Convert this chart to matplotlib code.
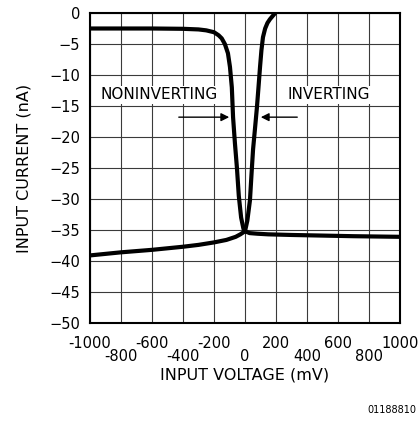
import matplotlib
matplotlib.use("Agg")
import matplotlib.pyplot as plt

# input current vs input voltage
noninv_mv = [-1000, -800, -600, -400, -300, -250, -200, -170, -150, -130, -110, -97, -85,
             -77, -65, -52, -40, -25, -10, 0, 30, 80, 150, 300, 500, 700, 1000]
noninv_na = [-2.5, -2.5, -2.5, -2.55, -2.65, -2.8, -3.1, -3.6, -4.1, -5.0, -6.5, -8.7, -12.0,
             -16.8, -21.0, -25.0, -29.5, -33.0, -34.8, -35.2, -35.5, -35.6, -35.7, -35.8, -35.9, -36.0, -36.1]

inv_mv = [-1000, -800, -600, -400, -300, -200, -120, -60, -30, 0, 15, 32, 42, 52, 65, 77,
          87, 97, 106, 116, 130, 145, 161, 178, 195]
inv_na = [-39.1, -38.6, -38.2, -37.7, -37.4, -37.0, -36.6, -36.1, -35.7, -35.2, -33.5, -30.2,
          -26.0, -22.0, -18.5, -15.2, -12.0, -8.7, -6.0, -3.9, -2.5, -1.6, -1.0, -0.5, 0.0]

xticks_top = [-1000, -600, -200, 200, 600, 1000]
xticks_low = [-800, -400, 0, 400, 800]
yticks = list(range(-50, 1, 5))

plt.rcParams['font.family'] = ['DejaVu Sans']
plt.rcParams['font.size'] = 10.5

fig = plt.figure(figsize=(4.19, 4.21), dpi=100)
ax = fig.add_axes([90/419, 98/421, 310/419, 310/421])

ax.plot(noninv_mv, noninv_na, color='black', lw=3, solid_capstyle='round')
ax.plot(inv_mv, inv_na, color='black', lw=3, solid_capstyle='round')

ax.set_xlim(-1000, 1000)
ax.set_ylim(-50, 0)
ax.set_xticks(xticks_top)
ax.set_xticklabels([str(t) for t in xticks_top])
ax.set_xticks(xticks_low, minor=True)
ax.set_xticklabels([str(t) for t in xticks_low], minor=True)
ax.set_yticks(yticks)
ax.tick_params(axis='x', which='both', labelsize=10.5)
ax.tick_params(axis='x', which='major', length=0, pad=9)
ax.tick_params(axis='x', which='minor', length=0, pad=18.5)
ax.tick_params(axis='y', length=0, pad=7, labelsize=10.5)
ax.grid(True, which='both', color='#3a3a3a', lw=0.8)
for s in ax.spines.values():
    s.set_linewidth(1.5)

ax.set_xlabel('INPUT VOLTAGE (mV)', labelpad=3, fontsize=11.5)
ax.set_ylabel('INPUT CURRENT (nA)', labelpad=13, fontsize=11.5)

ax.text(-935, -13.2, 'NONINVERTING', va='center', ha='left', fontsize=11,
        bbox=dict(facecolor='white', edgecolor='none', pad=1))
ax.text(271, -13.2, 'INVERTING', va='center', ha='left', fontsize=11,
        bbox=dict(facecolor='white', edgecolor='none', pad=1))
ax.annotate('', xy=(-84, -16.8), xytext=(-445, -16.8),
            arrowprops=dict(arrowstyle='-|>', color='black', lw=1, mutation_scale=12))
ax.annotate('', xy=(84, -16.8), xytext=(355, -16.8),
            arrowprops=dict(arrowstyle='-|>', color='black', lw=1, mutation_scale=12))

fig.text(367/419, 11/421, '01188810', ha='left', va='center', fontsize=7)

fig.savefig('out.png', dpi=100)
